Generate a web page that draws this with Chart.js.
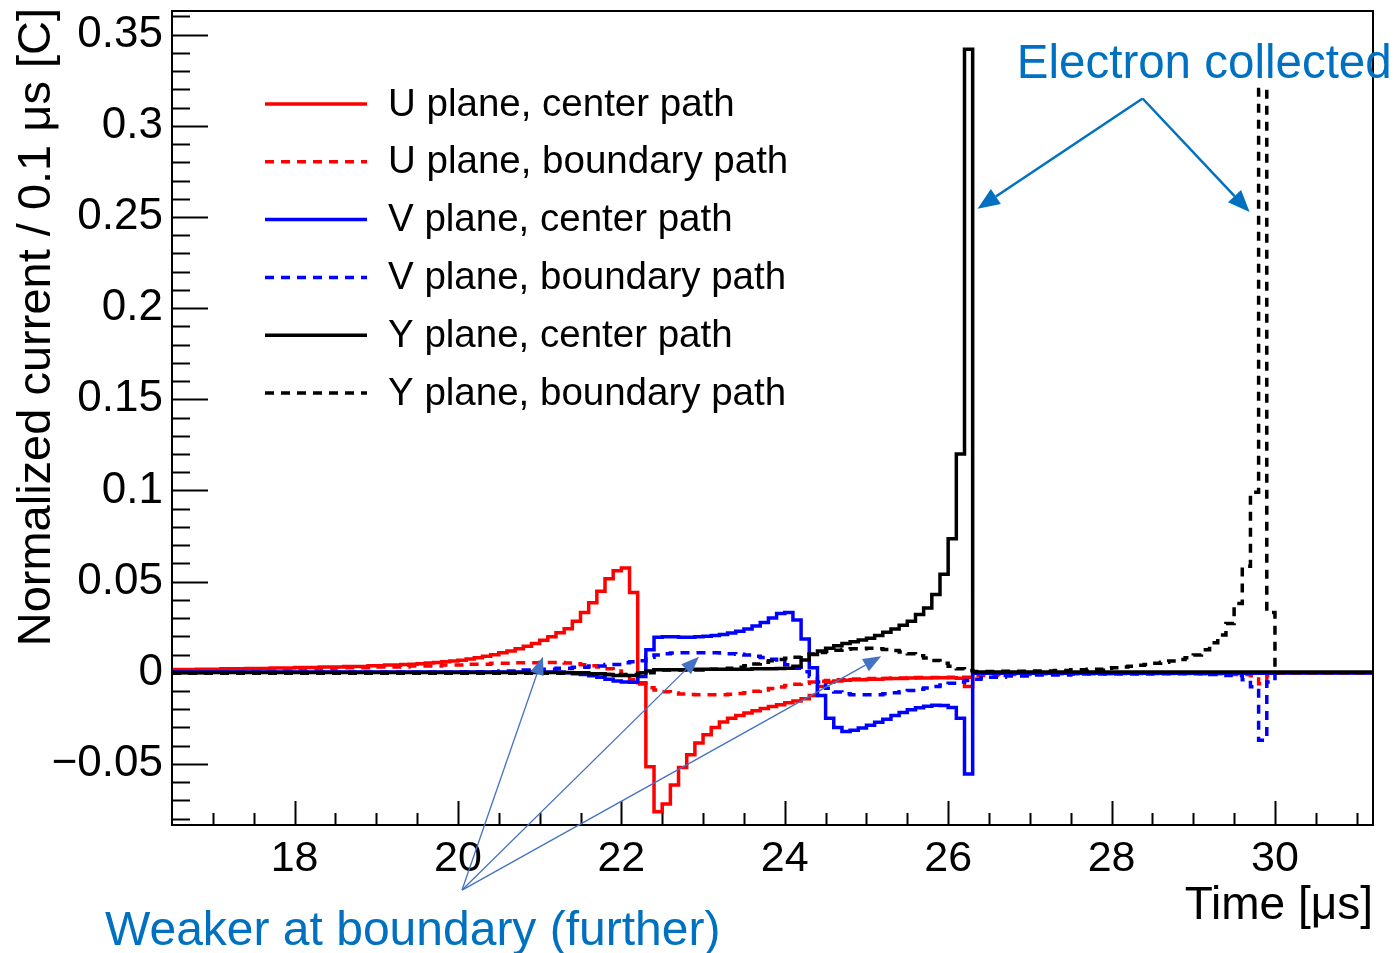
<!DOCTYPE html>
<html>
<head>
<meta charset="utf-8">
<title>Normalized current vs time</title>
<script src="https://cdn.jsdelivr.net/npm/chart.js@4.4.1/dist/chart.umd.min.js"></script>
<style>
  html, body { margin: 0; padding: 0; background: #fff; }
  canvas { display: block; }
</style>
</head>
<body>
<canvas id="signalChart" width="1398" height="953"></canvas>
<script>
// ---- data: histogram steps [bin left edge (us), value], 0.1 us bins ----
const seriesLabels = [
    'U plane, center path',
    'U plane, boundary path',
    'V plane, center path',
    'V plane, boundary path',
    'Y plane, center path',
    'Y plane, boundary path'
];

const uCenter = [
    [16.5, 0.0018], [16.8, 0.0020], [17.1, 0.0022], [17.4, 0.0024], [17.7, 0.0026],
    [18.0, 0.0029], [18.3, 0.0032], [18.6, 0.0035], [18.9, 0.0039], [19.1, 0.0042],
    [19.3, 0.0045], [19.4, 0.0047], [19.5, 0.0050], [19.6, 0.0053], [19.7, 0.0056],
    [19.8, 0.0060], [19.9, 0.0064], [20.0, 0.0069], [20.1, 0.0075], [20.2, 0.0082],
    [20.3, 0.0090], [20.4, 0.0099], [20.5, 0.0110], [20.6, 0.0120], [20.7, 0.0132],
    [20.8, 0.0145], [20.9, 0.0160], [21.0, 0.0178], [21.1, 0.0198], [21.2, 0.0220],
    [21.3, 0.0242], [21.4, 0.0282], [21.5, 0.0330], [21.6, 0.0384], [21.7, 0.0447],
    [21.8, 0.0516], [21.9, 0.0560], [22.0, 0.0575], [22.1, 0.0440], [22.2, -0.0055],
    [22.3, -0.0515], [22.4, -0.0762], [22.5, -0.0720], [22.6, -0.0615], [22.7, -0.0520],
    [22.8, -0.0450], [22.9, -0.0385], [23.0, -0.0340], [23.1, -0.0300], [23.2, -0.0270],
    [23.3, -0.0250], [23.4, -0.0235], [23.5, -0.0220], [23.6, -0.0208], [23.7, -0.0196],
    [23.8, -0.0185], [23.9, -0.0175], [24.0, -0.0165], [24.1, -0.0155], [24.2, -0.0143],
    [24.3, -0.0125], [24.4, -0.0075], [24.5, -0.0052], [24.6, -0.0045], [24.7, -0.0041],
    [24.8, -0.0038], [25.0, -0.0035], [25.2, -0.0032], [25.5, -0.0029], [25.8, -0.0027],
    [26.1, -0.0030], [26.2, -0.0075], [26.3, -0.0003], [30.0, 0.0]
];

const uBoundary = [
    [16.5, 0.0012], [17.0, 0.0015], [17.5, 0.0018], [18.0, 0.0022], [18.5, 0.0027],
    [19.0, 0.0032], [19.4, 0.0037], [19.8, 0.0042], [20.1, 0.0047], [20.4, 0.0052],
    [20.7, 0.0055], [21.0, 0.0057], [21.3, 0.0053], [21.4, 0.0049], [21.5, 0.0044],
    [21.6, 0.0038], [21.7, 0.0031], [21.8, 0.0022], [21.9, 0.0010], [22.0, -0.0012],
    [22.1, -0.0038], [22.2, -0.0062], [22.3, -0.0082], [22.4, -0.0094], [22.5, -0.0104],
    [22.6, -0.0111], [22.7, -0.0116], [22.8, -0.0119], [22.9, -0.0120], [23.3, -0.0118],
    [23.4, -0.0114], [23.5, -0.0109], [23.6, -0.0102], [23.7, -0.0094], [23.8, -0.0086],
    [23.9, -0.0078], [24.0, -0.0070], [24.1, -0.0063], [24.2, -0.0057], [24.3, -0.0051],
    [24.4, -0.0046], [24.5, -0.0042], [24.6, -0.0038], [24.8, -0.0034], [25.0, -0.0031],
    [25.3, -0.0028], [25.6, -0.0026], [26.0, -0.0024], [26.3, -0.0015], [26.6, -0.0010],
    [27.0, -0.0006], [28.0, -0.0004], [29.0, -0.0006], [29.4, -0.0010], [29.7, -0.0017],
    [29.8, -0.0060], [29.9, -0.0017], [30.0, 0.0]
];

const vCenter = [
    [16.5, 0.0004], [21.3, 0.0], [21.4, -0.0005], [21.5, -0.0010], [21.6, -0.0016],
    [21.7, -0.0025], [21.8, -0.0035], [21.9, -0.0045], [22.0, -0.0050], [22.1, -0.0052],
    [22.2, -0.0020], [22.3, 0.0126], [22.4, 0.0195], [22.5, 0.0198], [22.6, 0.0197],
    [22.7, 0.0195], [22.9, 0.0197], [23.0, 0.0200], [23.1, 0.0204], [23.2, 0.0210],
    [23.3, 0.0218], [23.4, 0.0228], [23.5, 0.0240], [23.6, 0.0256], [23.7, 0.0276],
    [23.8, 0.0300], [23.9, 0.0325], [24.0, 0.0330], [24.1, 0.0290], [24.2, 0.0185],
    [24.3, 0.0027], [24.4, -0.0125], [24.5, -0.0250], [24.6, -0.0300], [24.7, -0.0322],
    [24.8, -0.0315], [24.9, -0.0303], [25.0, -0.0288], [25.1, -0.0272], [25.2, -0.0255],
    [25.3, -0.0235], [25.4, -0.0218], [25.5, -0.0203], [25.6, -0.0192], [25.7, -0.0183],
    [25.8, -0.0178], [25.9, -0.0180], [26.0, -0.0190], [26.1, -0.0250], [26.2, -0.0555],
    [26.3, -0.0003], [30.0, 0.0]
];

const vBoundary = [
    [16.5, 0.0003], [20.0, 0.0006], [20.5, 0.0010], [20.8, 0.0015], [21.0, 0.0020],
    [21.2, 0.0025], [21.4, 0.0030], [21.6, 0.0037], [21.8, 0.0045], [22.0, 0.0055],
    [22.1, 0.0060], [22.2, 0.0066], [22.3, 0.0085], [22.4, 0.0097], [22.5, 0.0104],
    [22.6, 0.0108], [22.7, 0.0110], [23.2, 0.0108], [23.3, 0.0105], [23.4, 0.0101],
    [23.5, 0.0097], [23.6, 0.0091], [23.7, 0.0084], [23.8, 0.0074], [23.9, 0.0060],
    [24.0, 0.0044], [24.1, 0.0025], [24.2, 0.0005], [24.3, -0.0020], [24.4, -0.0050],
    [24.5, -0.0085], [24.6, -0.0105], [24.7, -0.0115], [24.8, -0.0120], [25.2, -0.0115],
    [25.3, -0.0110], [25.4, -0.0104], [25.5, -0.0097], [25.6, -0.0090], [25.7, -0.0083],
    [25.8, -0.0075], [25.9, -0.0067], [26.0, -0.0058], [26.1, -0.0050], [26.2, -0.0042],
    [26.3, -0.0035], [26.4, -0.0029], [26.5, -0.0024], [26.7, -0.0018], [27.0, -0.0012],
    [27.5, -0.0007], [28.5, -0.0005], [29.2, -0.0010], [29.4, -0.0015], [29.6, -0.0038],
    [29.7, -0.0077], [29.8, -0.0370], [29.9, -0.0050], [30.0, 0.0]
];

const yCenter = [
    [16.5, 0.0002], [21.4, 0.0], [21.6, -0.0005], [21.8, -0.0010], [21.9, -0.0015],
    [22.2, 0.0], [22.3, 0.0010], [22.4, 0.0017], [22.8, 0.0019], [23.2, 0.0020],
    [23.6, 0.0022], [23.9, 0.0024], [24.0, 0.0025], [24.1, 0.0036], [24.2, 0.0070],
    [24.3, 0.0100], [24.4, 0.0120], [24.5, 0.0135], [24.6, 0.0148], [24.7, 0.0160],
    [24.8, 0.0170], [24.9, 0.0180], [25.0, 0.0190], [25.1, 0.0205], [25.2, 0.0222],
    [25.3, 0.0240], [25.4, 0.0260], [25.5, 0.0282], [25.6, 0.0320], [25.7, 0.0355],
    [25.8, 0.0430], [25.9, 0.0540], [26.0, 0.0735], [26.1, 0.1200], [26.2, 0.3420],
    [26.3, 0.0004]
];

const yBoundary = [
    [16.5, -0.0003], [21.5, -0.0006], [21.8, -0.0010], [22.2, 0.0], [22.4, 0.0015],
    [23.0, 0.0020], [23.3, 0.0025], [23.4, 0.0030], [23.5, 0.0038], [23.6, 0.0048],
    [23.7, 0.0058], [23.8, 0.0066], [23.9, 0.0073], [24.0, 0.0079], [24.1, 0.0085],
    [24.2, 0.0094], [24.3, 0.0103], [24.4, 0.0111], [24.5, 0.0118], [24.6, 0.0124],
    [24.7, 0.0129], [24.8, 0.0132], [25.0, 0.0134], [25.1, 0.0132], [25.2, 0.0128],
    [25.3, 0.0122], [25.4, 0.0114], [25.5, 0.0104], [25.6, 0.0093], [25.7, 0.0081],
    [25.8, 0.0067], [25.9, 0.0052], [26.0, 0.0036], [26.1, 0.0022], [26.2, 0.0012],
    [26.3, 0.0007], [26.6, 0.0008], [27.0, 0.0010], [27.3, 0.0013], [27.5, 0.0016],
    [27.7, 0.0020], [27.9, 0.0025], [28.0, 0.0028], [28.1, 0.0032], [28.2, 0.0036],
    [28.3, 0.0041], [28.4, 0.0046], [28.5, 0.0052], [28.6, 0.0058], [28.7, 0.0065],
    [28.8, 0.0073], [28.9, 0.0083], [29.0, 0.0097], [29.1, 0.0126], [29.2, 0.0165],
    [29.3, 0.0207], [29.4, 0.0270], [29.5, 0.0380], [29.6, 0.0584], [29.7, 0.0990],
    [29.8, 0.3200], [29.9, 0.0330], [30.0, 0.0]
];

// axis ranges and tick labels
const xRange = [16.5, 31.2];
const yRange = [-0.0835, 0.363];
const xTickValues = [18, 20, 22, 24, 26, 28, 30];
const yTickValues = [-0.05, 0, 0.05, 0.1, 0.15, 0.2, 0.25, 0.3, 0.35];

// annotations (data coordinates)
const electronNote = { text: 'Electron collected', at: [26.84, 0.3332], tail: [28.38, 0.315],
    tips: [[26.36, 0.2545], [29.69, 0.2527]] };
const weakerNote = { text: 'Weaker at boundary (further)', at: [15.68, -0.1422], tail: [20.05, -0.1192],
    tips: [[21.04, 0.0088], [22.95, 0.0088], [25.18, 0.0090]] };

const FONT = "'Liberation Sans', Arial, Helvetica, sans-serif";

function toPoints(steps) {
    const pts = steps.map(([t, v]) => ({ x: t, y: v }));
    pts.push({ x: xRange[1], y: steps[steps.length - 1][1] });
    return pts;
}

const styles = [
    { color: '#ff0000', dash: [] },
    { color: '#ff0000', dash: [9, 7] },
    { color: '#0000ff', dash: [] },
    { color: '#0000ff', dash: [9, 7] },
    { color: '#000000', dash: [] },
    { color: '#000000', dash: [9, 7] }
];
const allSeries = [uCenter, uBoundary, vCenter, vBoundary, yCenter, yBoundary];
const drawOrder = [5, 4, 3, 2, 0, 1];

const datasets = allSeries.map((s, i) => ({
    label: seriesLabels[i],
    data: toPoints(s),
    borderColor: styles[i].color,
    borderDash: styles[i].dash,
    borderWidth: 3.5,
    stepped: 'before',
    pointRadius: 0,
    fill: false,
    tension: 0,
    borderCapStyle: 'butt',
    borderJoinStyle: 'miter',
    order: drawOrder[i]
}));

function arrow(ctx, x0, y0, x1, y1, headLen, headHalf) {
    const a = Math.atan2(y1 - y0, x1 - x0);
    const bx = x1 - headLen * Math.cos(a), by = y1 - headLen * Math.sin(a);
    ctx.beginPath();
    ctx.moveTo(x0, y0);
    ctx.lineTo(bx, by);
    ctx.stroke();
    ctx.beginPath();
    ctx.moveTo(x1, y1);
    ctx.lineTo(bx + headHalf * Math.sin(a), by - headHalf * Math.cos(a));
    ctx.lineTo(bx - headHalf * Math.sin(a), by + headHalf * Math.cos(a));
    ctx.closePath();
    ctx.fill();
}

// frame, ROOT-style inward ticks, legend, titles and notes
const decorPlugin = {
    id: 'decor',
    afterDraw(chart) {
        const { ctx, chartArea: ca, scales } = chart;
        const xs = scales.x, ys = scales.y;
        ctx.save();

        // ticks
        ctx.strokeStyle = '#000';
        ctx.lineWidth = 2;
        ctx.beginPath();
        for (let v = 17; v <= xRange[1] + 1e-9; v += 0.5) {
            const px = Math.round(xs.getPixelForValue(v)) + 0.5;
            const len = xTickValues.some(t => Math.abs(t - v) < 1e-6) ? 24 : 12;
            ctx.moveTo(px, ca.bottom);
            ctx.lineTo(px, ca.bottom - len);
        }
        for (let k = -8; k <= 36; k++) {
            const v = k / 100;
            const py = Math.round(ys.getPixelForValue(v)) + 0.5;
            const len = k % 5 === 0 ? 36 : 18;
            ctx.moveTo(ca.left, py);
            ctx.lineTo(ca.left + len, py);
        }
        ctx.stroke();

        // frame
        ctx.strokeRect(ca.left, ca.top, ca.right - ca.left, ca.bottom - ca.top);

        // legend
        ctx.font = '38.5px ' + FONT;
        ctx.textBaseline = 'middle';
        ctx.textAlign = 'left';
        chart.data.datasets.forEach((ds, i) => {
            const y = 104 + i * 57.8;
            ctx.strokeStyle = ds.borderColor;
            ctx.lineWidth = 3.5;
            ctx.setLineDash(ds.borderDash);
            ctx.beginPath();
            ctx.moveTo(265, y);
            ctx.lineTo(367, y);
            ctx.stroke();
            ctx.setLineDash([]);
            ctx.fillStyle = '#000';
            ctx.fillText(ds.label, 388, y + 1);
        });

        // axis titles
        ctx.fillStyle = '#000';
        ctx.font = '46px ' + FONT;
        ctx.textAlign = 'right';
        ctx.fillText('Time [\u03bcs]', ca.right, 906);
        ctx.save();
        ctx.translate(37, 8);
        ctx.rotate(-Math.PI / 2);
        ctx.font = '47px ' + FONT;
        ctx.textAlign = 'right';
        ctx.fillText('Normalized current / 0.1 \u03bcs [C]', 0, 0);
        ctx.restore();

        // notes
        const px = p => [xs.getPixelForValue(p[0]), ys.getPixelForValue(p[1])];
        ctx.fillStyle = '#0070c0';
        ctx.strokeStyle = '#0070c0';
        ctx.lineWidth = 2.5;
        let [tx, ty] = px(electronNote.tail);
        electronNote.tips.forEach(t => { const [hx, hy] = px(t); arrow(ctx, tx, ty, hx, hy, 22, 9); });
        ctx.font = '47.5px ' + FONT;
        ctx.textAlign = 'left';
        let [ax, ay] = px(electronNote.at);
        ctx.fillText(electronNote.text, ax, ay);

        ctx.fillStyle = '#4472c4';
        ctx.strokeStyle = '#4472c4';
        ctx.lineWidth = 1.3;
        [tx, ty] = px(weakerNote.tail);
        weakerNote.tips.forEach(t => { const [hx, hy] = px(t); arrow(ctx, tx, ty, hx, hy, 18, 7); });
        ctx.fillStyle = '#0070c0';
        ctx.font = '48px ' + FONT;
        [ax, ay] = px(weakerNote.at);
        ctx.fillText(weakerNote.text, ax, ay);

        ctx.restore();
    }
};

const fmt = v => {
    const s = String(Number(v.toFixed(2)));
    return s.replace('-', '\u2212');
};

const noPad = s => { s.paddingTop = 0; s.paddingBottom = 0; s.paddingLeft = 0; s.paddingRight = 0; };

new Chart(document.getElementById('signalChart'), {
    type: 'line',
    data: { datasets },
    options: {
        responsive: false,
        animation: false,
        devicePixelRatio: 1,
        layout: { padding: { left: 0, top: 11, right: 25, bottom: 0 } },
        plugins: { legend: { display: false }, tooltip: { enabled: false } },
        scales: {
            x: {
                type: 'linear',
                min: xRange[0],
                max: xRange[1],
                afterBuildTicks: s => { s.ticks = xTickValues.map(v => ({ value: v })); },
                afterFit: s => { s.height = 128; noPad(s); },
                grid: { display: false, drawTicks: false },
                border: { display: false },
                ticks: {
                    autoSkip: false, maxRotation: 0, padding: 8, color: '#000',
                    font: { family: FONT, size: 43 },
                    callback: v => String(v)
                }
            },
            y: {
                type: 'linear',
                min: yRange[0],
                max: yRange[1],
                afterBuildTicks: s => { s.ticks = yTickValues.map(v => ({ value: v })); },
                afterFit: s => { s.width = 172; noPad(s); },
                grid: { display: false, drawTicks: false },
                border: { display: false },
                ticks: {
                    padding: 9, color: '#000',
                    font: { family: FONT, size: 44 },
                    callback: v => fmt(v)
                }
            }
        }
    },
    plugins: [decorPlugin]
});
</script>
</body>
</html>
